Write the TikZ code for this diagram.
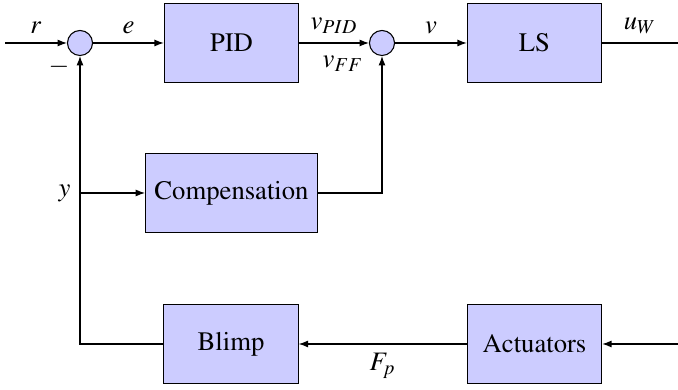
\documentclass[tikz,border=0pt]{standalone}
\usepackage[T1]{fontenc}
\usepackage{mathptmx}
\usepackage{tikz}
\usetikzlibrary{positioning,arrows.meta}

\begin{document}
\begin{tikzpicture}[
  x=0.375pt, y=0.375pt,
  block/.style={draw, fill=blue!20, align=center,
                minimum width=1.77cm, minimum height=1.03cm},
  sum/.style={draw, circle, fill=blue!20, minimum size=0.33cm, inner sep=0pt},
  arr/.style={-{Latex[length=3.5pt,width=2.6pt]}}]
\useasboundingbox (0,0) rectangle (678,390);
% forward path
\node[sum]   (sum1)  at (80,347)    {};
\node[block] (pid)   at (231.5,347) {PID};
\node[sum]   (sum2)  at (382,347)   {};
\node[block] (ls)    at (534.5,347) {LS};
% feedforward and plant
\node[block] (comp)  at (231.5,197) {Compensation};
\node[block] (blimp) at (231,46)    {Blimp};
\node[block] (act)   at (534.5,46)  {Actuators};
\coordinate (ref) at (5,347);
\coordinate (out) at (678,347);
\coordinate (cmd) at (678,46);
\coordinate (ybr) at (sum1 |- comp);
\draw[arr] (ref) -- node[above] {$r$} (sum1);
\draw[arr] (sum1) -- node[above] {$e$} (pid);
\draw[arr] (pid) -- node[above] {$v_{PID}$} (sum2);
\draw[arr] (sum2) -- node[above] {$v$} (ls);
\draw (ls) -- node[above] {$u_W$} (out);
\draw[arr] (cmd) -- (act);
\draw[arr] (act) -- node[below] {$F_p$} (blimp);
\draw[arr] (blimp.west) -| (sum1.south);
\draw[arr] (ybr) -- (comp);
\draw[arr] (comp.east) -| (sum2.south);
\node[left] at (ybr) {$y$};
\node[below left=-1.5pt and -3pt of sum1.south west] (minus) {$-$};
\node[below left=-2pt and 0pt of sum2.south west] (vff) {$v_{FF}$};
\end{tikzpicture}
\end{document}
